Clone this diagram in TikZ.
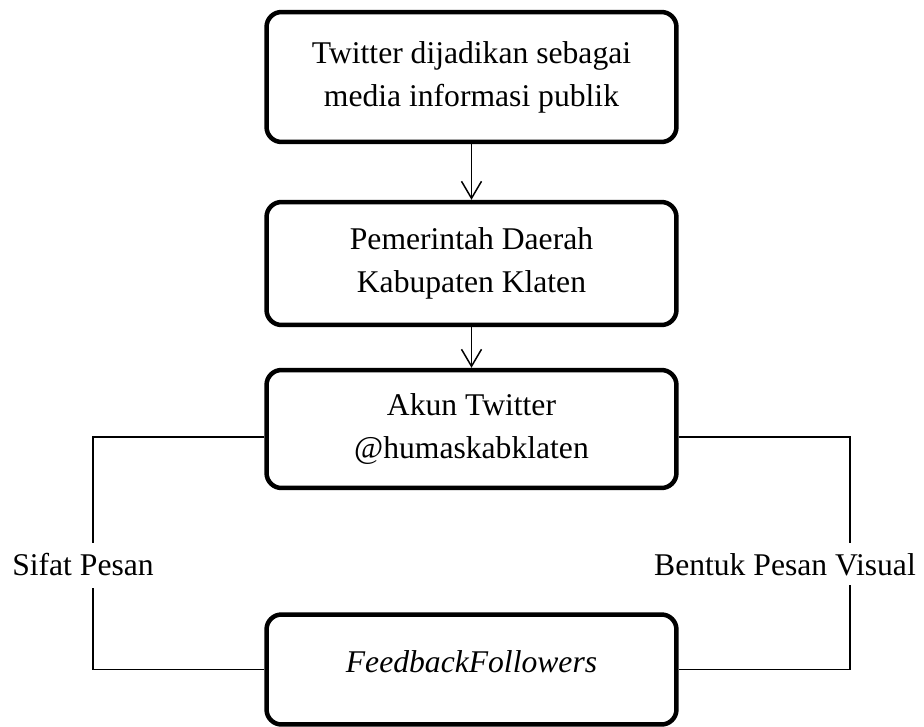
\documentclass[tikz,border=0pt]{standalone}
\usepackage{fontspec}
\setmainfont{Liberation Serif}
\usetikzlibrary{arrows.meta}

\begin{document}
\begin{tikzpicture}[x=0.02cm,y=-0.02cm,
    kotak/.style={draw,line width=0.09cm,rounded corners=0.3cm,minimum width=8.2cm,
        align=center,font=\fontsize{18}{24.5}\selectfont},
    teks/.style={font=\fontsize{18}{24.5}\selectfont,inner sep=0pt},
    garis/.style={line width=0.03cm},
    panah/.style={garis,-{Straight Barb[length=0.34cm,width=0.4cm]}}]
    \useasboundingbox (0,0) rectangle (924,727);

        \node[kotak,minimum height=2.6cm] (twitter) at (471.5,77) {Twitter dijadikan sebagai\\media informasi publik};
        \node[kotak,minimum height=2.46cm] (pemda) at (471.5,263.5) {Pemerintah Daerah\\Kabupaten Klaten};
        \node[kotak,minimum height=2.36cm] (akun) at (471.5,429) {Akun Twitter\\@humaskabklaten};
        \node[kotak,minimum height=2.2cm,text depth=0.3cm] (feedback) at (471.5,669.5) {\textit{FeedbackFollowers}};

        \node[teks] (sifat) at (83,565) {Sifat Pesan};
        \node[teks] (bentuk) at (785,565) {Bentuk Pesan Visual};

        \draw[panah] (twitter) -- (pemda);
        \draw[panah] (pemda) -- (akun);

        % sisi kiri
        \coordinate (kiri1) at (93,543);
        \coordinate (kiri2) at (93,588);
        \draw[garis] ([yshift=-0.16cm]akun.west) -| (kiri1);
        \draw[garis] (kiri2) |- (feedback.west);

        % sisi kanan
        \coordinate (kanan1) at (850,543);
        \coordinate (kanan2) at (850,585);
        \draw[garis] ([yshift=-0.16cm]akun.east) -| (kanan1);
        \draw[garis] (kanan2) |- (feedback.east);

    \end{tikzpicture}
\end{document}
